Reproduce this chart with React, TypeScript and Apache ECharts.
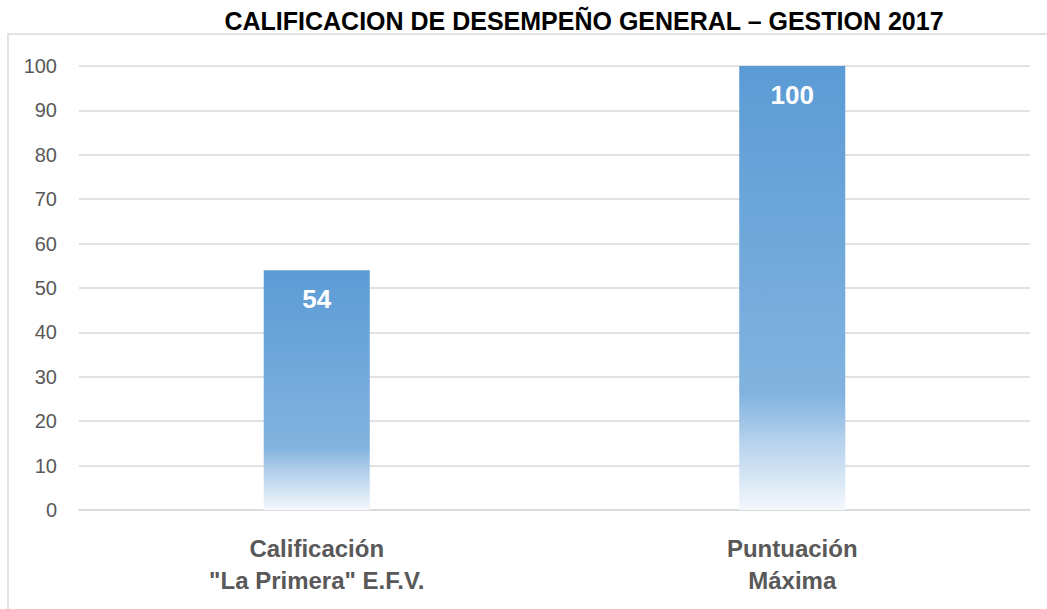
import React, { useEffect, useRef } from "react";
import * as echarts from "echarts";

const titleText = "CALIFICACION DE DESEMPEÑO GENERAL – GESTION 2017";
const categories = ['Calificación\n"La Primera" E.F.V.', "Puntuación\nMáxima"];
const values = [54, 100];

export default function App() {
  const ref = useRef<HTMLDivElement>(null);
  useEffect(() => {
    document.body.style.margin = "0";
    const chart = echarts.init(ref.current!, null, { renderer: "svg" });
    const font = "'Liberation Sans', Arial, sans-serif";
    chart.setOption({
      animation: false,
      backgroundColor: "#ffffff",
      graphic: [
        {
          type: "rect",
          shape: { x: 8, y: 34, width: 1100, height: 700 },
          style: { fill: "none", stroke: "#D9D9D9", lineWidth: 1.5 },
          silent: true,
        },
        {
          type: "text",
          x: 584,
          y: 21,
          style: {
            text: titleText,
            fontFamily: font,
            fontWeight: "bold",
            fontSize: 25,
            fill: "#000000",
            textAlign: "center",
            textVerticalAlign: "middle",
          },
        },
      ],
      grid: { left: 79, right: 17, top: 66, bottom: 99, containLabel: false },
      xAxis: {
        type: "category",
        data: categories,
        axisLine: { show: true, lineStyle: { color: "#D9D9D9", width: 1.5 } },
        axisTick: { show: false },
        axisLabel: {
          color: "#595959",
          fontFamily: font,
          fontWeight: "bold",
          fontSize: 24,
          lineHeight: 32,
          margin: 22,
        },
      },
      yAxis: {
        type: "value",
        min: 0,
        max: 100,
        interval: 10,
        axisLine: { show: false },
        axisTick: { show: false },
        splitLine: { lineStyle: { color: "#D9D9D9", width: 1.5 } },
        axisLabel: {
          color: "#595959",
          fontFamily: font,
          fontSize: 20,
          margin: 22,
        },
      },
      series: [
        {
          type: "bar",
          data: values,
          barWidth: "22.3%",
          itemStyle: {
            color: new echarts.graphic.LinearGradient(0, 0, 0, 1, [
              { offset: 0, color: "#5B9BD5" },
              { offset: 0.74, color: "#82B3DF" },
              { offset: 0.84, color: "#B3D0EC" },
              { offset: 1, color: "#F4F8FC" },
            ]),
          },
          label: {
            show: true,
            position: "insideTop",
            distance: 16,
            color: "#ffffff",
            fontFamily: font,
            fontWeight: "bold",
            fontSize: 26,
          },
        },
      ],
    });
    return () => chart.dispose();
  }, []);
  return <div ref={ref} style={{ width: 1047, height: 609 }} />;
}
